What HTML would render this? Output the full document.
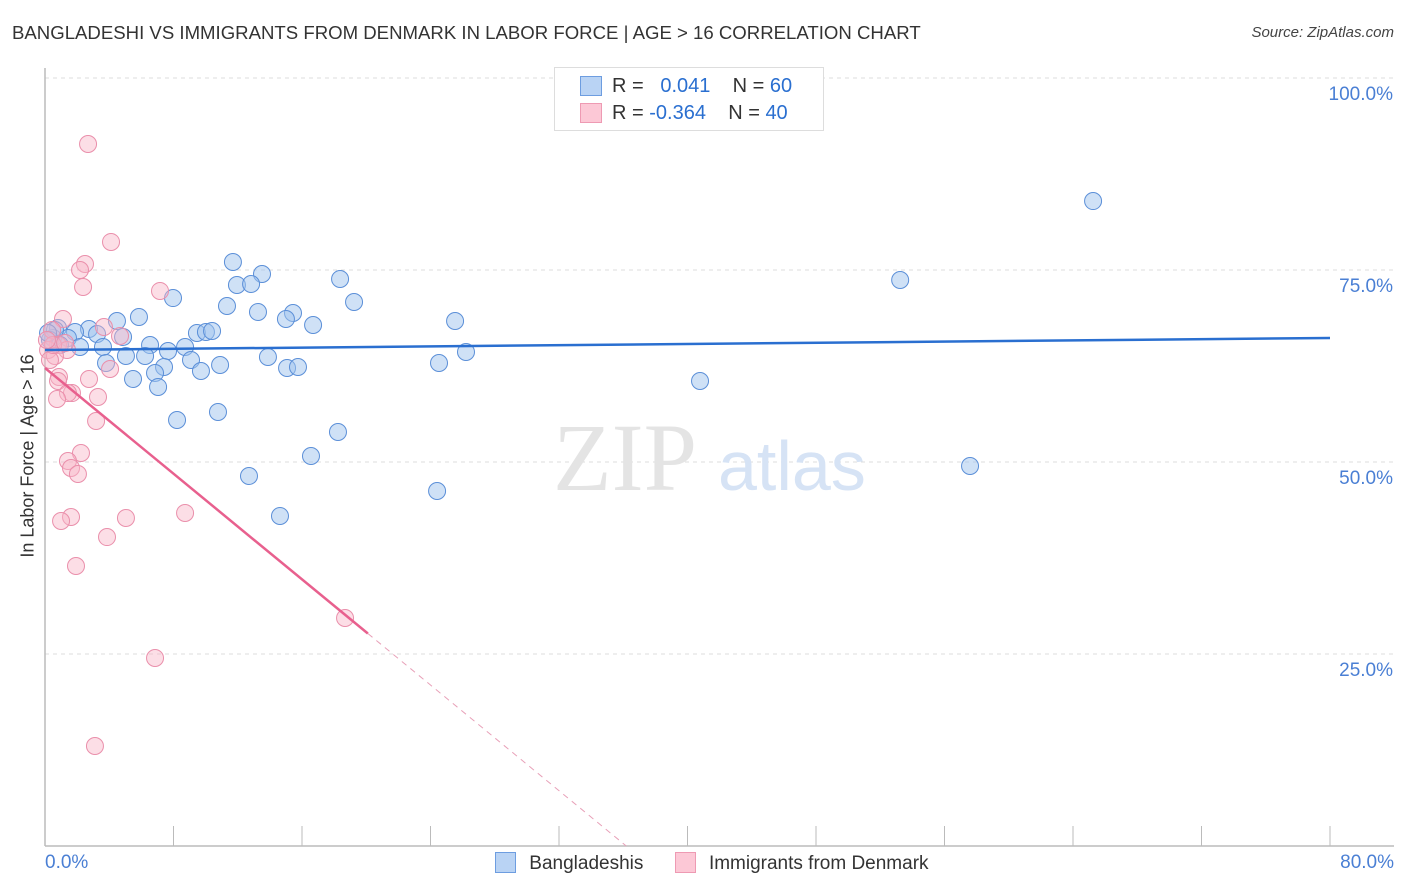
<!DOCTYPE html>
<html><head><meta charset="utf-8"><style>
body{margin:0;background:#fff;font-family:"Liberation Sans",sans-serif;}
#wrap{position:relative;width:1406px;height:892px;overflow:hidden;}
.t{position:absolute;white-space:nowrap;}
</style></head><body>
<div id="wrap">
<div class="t" style="left:12px;top:22px;font-size:18.6px;color:#333;">BANGLADESHI VS IMMIGRANTS FROM DENMARK IN LABOR FORCE | AGE &gt; 16 CORRELATION CHART</div>
<div class="t" style="right:12px;top:24px;font-size:15px;color:#444;font-style:italic;">Source: ZipAtlas.com</div>
<svg id="svg" width="1406" height="892" style="position:absolute;left:0;top:0"></svg>
</div>
<script>
const blueX=[65.25,53.24,40.78,57.59,24.41,14.63,16.56,18.24,12.70,10.77,8.22,25.53,26.21,24.53,19.24,18.37,13.51,11.70,11.95,12.83,7.97,11.33,13.26,15.44,15.00,16.69,5.85,4.48,2.74,1.87,3.24,4.86,6.54,8.72,7.66,9.46,10.02,10.40,0.81,0.50,1.43,2.18,3.61,5.04,6.23,9.09,10.90,9.71,7.41,6.85,3.80,5.48,7.04,13.88,15.07,15.75,0.62,0.31,0.93,0.19];
const blueY=[83.98,73.70,60.55,49.48,46.22,42.97,50.78,53.91,48.18,56.51,55.47,68.36,64.32,62.89,70.83,73.83,74.48,76.04,73.05,73.18,71.35,70.31,69.53,69.40,68.62,67.84,68.88,68.36,67.32,66.93,66.67,66.28,65.23,64.97,64.45,66.80,66.93,67.06,67.45,66.15,66.15,64.97,64.97,63.80,63.80,63.28,62.63,61.85,62.37,61.59,62.89,60.81,59.77,63.67,62.24,62.37,67.19,65.89,65.23,66.80];
const pinkX=[2.68,4.11,2.49,2.18,2.37,7.16,1.12,3.67,4.67,0.44,0.81,1.37,0.19,0.62,4.05,0.87,2.74,0.81,1.68,1.43,3.30,0.75,3.18,2.24,1.43,1.62,2.05,8.72,5.04,1.62,1.00,3.86,1.93,18.68,6.85,3.11,0.31,0.50,0.12,1.25];
const pinkY=[91.41,78.65,75.78,75.0,72.79,72.27,68.62,67.58,66.41,67.19,65.23,64.58,64.58,63.80,62.11,61.07,60.81,60.55,58.98,58.98,58.46,58.20,55.34,51.17,50.13,49.22,48.44,43.36,42.71,42.84,42.32,40.23,36.46,29.69,24.48,13.02,63.28,65.23,65.89,65.49];
const blueTrend=[64.58,66.15];
const pinkTrend=[62.24,-1.72,20.1];
const yTicks=[25,50,75,100];
const yTickLabels=["25.0%","50.0%","75.0%","100.0%"];
const xTicks=[0,8,16,24,32,40,48,56,64,72,80];

const X=v=>45+v/80*1285, Y=v=>846-v*7.68;
const svg=document.getElementById('svg');
const NS='http://www.w3.org/2000/svg';
function mk(tag,attrs,parent){const e=document.createElementNS(NS,tag);for(const k in attrs)e.setAttribute(k,attrs[k]);(parent||svg).appendChild(e);return e;}

yTicks.forEach((t,i)=>{
 const g=mk('line',{x1:45,x2:1394,y1:Y(t),y2:Y(t),stroke:'#ddd','stroke-dasharray':'4,4'});
 
 
 const tx=mk('text',{x:1393,y:Y(t)+22,'text-anchor':'end','font-size':19,fill:'#4a7fd4','font-family':'Liberation Sans, sans-serif'});
 tx.textContent=yTickLabels[i];
 
 
});
const ax=mk('line',{x1:45,x2:1394,y1:846,y2:846,stroke:'#bbb','stroke-width':1.5});


const ay=mk('line',{x1:45,x2:45,y1:68,y2:846,stroke:'#bbb','stroke-width':1.5});


xTicks.forEach(t=>{
 const l=mk('line',{x1:X(t),x2:X(t),y1:826,y2:846,stroke:'#bbb'});
 
 
});
const wm=mk('text',{x:553,y:490,'font-size':96,fill:'#e4e4e4','font-family':'Liberation Serif, serif'});wm.textContent='ZIP';


const wm2=mk('text',{x:718,y:490,'font-size':70,fill:'#d6e3f5','font-family':'Liberation Sans, sans-serif'});wm2.textContent='atlas';



blueX.forEach((v,i)=>{
 const c=mk('circle',{cx:X(v),cy:Y(blueY[i]),r:8.5,fill:'rgba(160,195,238,0.5)',stroke:'#5b8fd8','stroke-width':1});
 
 
});
pinkX.forEach((v,i)=>{
 const c=mk('circle',{cx:X(v),cy:Y(pinkY[i]),r:8.5,fill:'rgba(248,182,200,0.45)',stroke:'#ea8fab','stroke-width':1});
 
 
});
const bt=mk('line',{x1:X(0),y1:Y(blueTrend[0]),x2:X(80),y2:Y(blueTrend[1]),stroke:'#2a6fd0','stroke-width':2.5});


const pe=pinkTrend[2], pz=-pinkTrend[0]/pinkTrend[1];
const pt=mk('line',{x1:X(0),y1:Y(pinkTrend[0]),x2:X(pe),y2:Y(pinkTrend[0]+pinkTrend[1]*pe),stroke:'#e8608e','stroke-width':2.5});


const pd=mk('line',{x1:X(pe),y1:Y(pinkTrend[0]+pinkTrend[1]*pe),x2:X(pz),y2:Y(0),stroke:'#e8a0b8','stroke-width':1,'stroke-dasharray':'6,5'});


</script>
<div class="t" style="left:28px;top:456px;font-size:18px;color:#333;transform:translate(-50%,-50%) rotate(-90deg);">In Labor Force | Age &gt; 16</div>
<div class="t" style="left:45px;top:852px;font-size:19px;color:#4a7fd4;">0.0%</div>
<div class="t" style="right:12px;top:852px;font-size:19px;color:#4a7fd4;">80.0%</div>
<div style="position:absolute;left:554px;top:67px;width:268px;height:62px;border:1px solid #ddd;background:#fff;font-size:20px;color:#333;">
 <div style="position:absolute;left:25px;top:8px;width:20px;height:18px;background:#b9d3f4;border:1px solid #6d9de0;"></div>
 <div class="t" style="left:57px;top:7px;">R = &nbsp;<span style="color:#2a6fd0">&nbsp;0.041</span>&nbsp;&nbsp;&nbsp; N = <span style="color:#2a6fd0">60</span></div>
 <div style="position:absolute;left:25px;top:35px;width:20px;height:18px;background:#fcc8d6;border:1px solid #ee9ab3;"></div>
 <div class="t" style="left:57px;top:34px;">R = <span style="color:#2a6fd0">-0.364</span>&nbsp;&nbsp;&nbsp; N = <span style="color:#2a6fd0">40</span></div>
</div>
<div style="position:absolute;left:495px;top:852px;font-size:19px;color:#333;">
 <span style="display:inline-block;width:19px;height:19px;background:#b9d3f4;border:1px solid #6d9de0;vertical-align:-4px;"></span>
 <span style="margin-left:8px;">Bangladeshis</span>
 <span style="display:inline-block;width:19px;height:19px;background:#fcc8d6;border:1px solid #ee9ab3;vertical-align:-4px;margin-left:26px;"></span>
 <span style="margin-left:8px;">Immigrants from Denmark</span>
</div>
</body></html>
